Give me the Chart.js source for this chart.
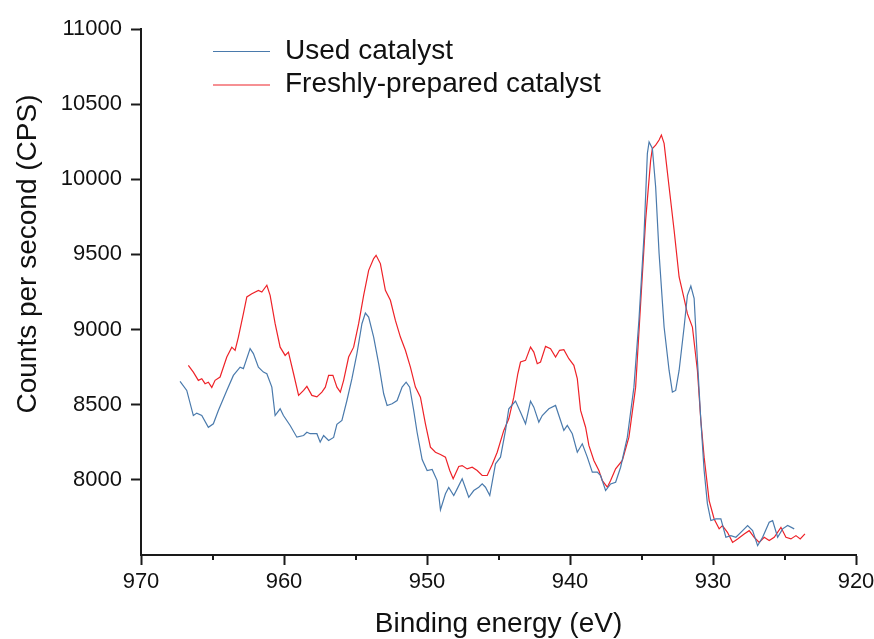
<!DOCTYPE html>
<html>
<head>
<meta charset="utf-8">
<script src="https://cdn.jsdelivr.net/npm/chart.js@4.4.1/dist/chart.umd.min.js"></script>
<style>
  html, body { margin: 0; padding: 0; background: #ffffff; }
  #wrap { width: 874px; height: 639px; position: relative; }
</style>
</head>
<body>
<div id="wrap"><canvas id="c" width="874" height="639"></canvas></div>
<script>
// ---- Data ----
const seriesLabels = ['Used catalyst', 'Freshly-prepared catalyst'];

const usedEnergy = [967.27, 966.80, 966.34, 966.10, 965.75, 965.29, 964.94, 964.59, 964.00, 963.54,
  963.07, 962.84, 962.37, 962.14, 961.79, 961.44, 961.20, 960.85, 960.62, 960.27,
  960.04, 959.57, 959.10, 958.63, 958.40, 958.17, 957.70, 957.47, 957.23, 956.88,
  956.53, 956.30, 955.95, 955.60, 955.25, 954.90, 954.55, 954.31, 954.08, 953.73,
  953.38, 953.03, 952.79, 952.44, 952.09, 951.74, 951.46, 951.21, 950.93, 950.69,
  950.34, 949.99, 949.64, 949.29, 949.06, 948.71, 948.48, 948.13, 947.89, 947.54,
  947.08, 946.73, 946.38, 946.14, 945.91, 945.61, 945.21, 944.86, 944.51, 944.28,
  943.81, 943.46, 943.11, 942.76, 942.53, 942.18, 941.94, 941.48, 941.01, 940.66,
  940.43, 940.19, 939.84, 939.49, 939.14, 938.79, 938.44, 938.09, 937.86, 937.51,
  937.16, 936.81, 936.46, 935.99, 935.53, 935.18, 934.83, 934.59, 934.47, 934.24,
  934.01, 933.77, 933.42, 933.07, 932.84, 932.61, 932.37, 932.02, 931.79, 931.55,
  931.32, 931.09, 930.85, 930.62, 930.39, 930.15, 929.80, 929.45, 929.10, 928.75,
  928.40, 927.93, 927.58, 927.23, 926.88, 926.53, 926.07, 925.83, 925.48, 925.13,
  924.78, 924.32];
const usedCounts = [8655, 8595, 8428, 8444, 8428, 8350, 8373, 8462, 8595, 8695,
  8750, 8740, 8873, 8840, 8750, 8717, 8706, 8617, 8428, 8473,
  8428, 8362, 8284, 8295, 8317, 8307, 8307, 8251, 8295, 8262,
  8282, 8369, 8395, 8528, 8673, 8840, 9039, 9110, 9083, 8950,
  8773, 8573, 8495, 8506, 8528, 8617, 8650, 8617, 8462, 8315,
  8135, 8062, 8069, 7995, 7800, 7907, 7949, 7896, 7940, 8007,
  7884, 7929, 7951, 7973, 7951, 7896, 8107, 8151, 8329, 8473,
  8524, 8450, 8373, 8524, 8484, 8384, 8428, 8473, 8495, 8395,
  8329, 8362, 8307, 8184, 8240, 8151, 8051, 8051, 8029, 7929,
  7973, 7984, 8084, 8284, 8617, 9061, 9616, 10172, 10249, 10205,
  9949, 9506, 9017, 8728, 8584, 8595, 8728, 9017, 9228, 9290,
  9208, 8795, 8395, 8062, 7840, 7729, 7740, 7740, 7618, 7629,
  7618, 7662, 7696, 7662, 7562, 7618, 7718, 7729, 7618, 7674,
  7696, 7674];

const freshEnergy = [966.69, 966.34, 965.99, 965.75, 965.52, 965.29, 965.05, 964.82, 964.47, 964.00,
  963.65, 963.42, 963.19, 962.84, 962.60, 962.25, 961.79, 961.55, 961.20, 960.97,
  960.62, 960.27, 959.92, 959.69, 959.33, 958.98, 958.63, 958.40, 958.05, 957.70,
  957.35, 957.11, 956.88, 956.58, 956.30, 956.06, 955.83, 955.48, 955.13, 954.78,
  954.43, 954.08, 953.73, 953.56, 953.26, 952.91, 952.56, 952.21, 951.86, 951.51,
  951.16, 950.81, 950.46, 950.11, 949.76, 949.41, 949.06, 948.71, 948.41, 948.17,
  947.78, 947.54, 947.19, 946.84, 946.49, 946.14, 945.79, 945.44, 945.09, 944.63,
  944.28, 943.93, 943.65, 943.46, 943.11, 942.76, 942.53, 942.29, 942.06, 941.71,
  941.36, 941.01, 940.73, 940.43, 940.08, 939.73, 939.49, 939.26, 938.91, 938.68,
  938.33, 937.98, 937.74, 937.39, 937.16, 936.81, 936.34, 935.88, 935.41, 935.06,
  934.71, 934.36, 934.24, 934.01, 933.77, 933.61, 933.42, 933.07, 932.72, 932.37,
  932.02, 931.79, 931.44, 931.09, 930.85, 930.62, 930.27, 929.92, 929.57, 929.34,
  928.99, 928.63, 928.28, 927.82, 927.47, 927.12, 926.77, 926.42, 926.07, 925.72,
  925.25, 924.90, 924.55, 924.20, 923.90, 923.57];
const freshCounts = [8762, 8717, 8662, 8673, 8640, 8650, 8615, 8662, 8684, 8817,
  8883, 8862, 8950, 9106, 9217, 9239, 9261, 9250, 9295, 9228,
  9039, 8883, 8828, 8850, 8706, 8562, 8595, 8622, 8562, 8552,
  8584, 8617, 8695, 8695, 8617, 8584, 8662, 8817, 8883, 9039,
  9228, 9394, 9472, 9494, 9439, 9261, 9195, 9061, 8950, 8862,
  8750, 8617, 8550, 8373, 8217, 8184, 8169, 8151, 8062, 8007,
  8089, 8095, 8073, 8084, 8062, 8029, 8029, 8102, 8184, 8329,
  8406, 8550, 8706, 8784, 8795, 8883, 8850, 8773, 8784, 8888,
  8873, 8817, 8862, 8866, 8806, 8762, 8673, 8462, 8350, 8229,
  8129, 8062, 7995, 7951, 7995, 8073, 8129, 8284, 8617, 9173,
  9728, 10127, 10205, 10227, 10261, 10294, 10239, 9949, 9661, 9350,
  9206, 9106, 9017, 8728, 8395, 8151, 7862, 7740, 7674, 7696,
  7651, 7584, 7607, 7640, 7662, 7618, 7584, 7618, 7596, 7618,
  7684, 7618, 7607, 7629, 7607, 7640];

const xTickValues = [970, 960, 950, 940, 930, 920];
const xMinorTickValues = [965, 955, 945, 935, 925];
const yTickValues = [8000, 8500, 9000, 9500, 10000, 10500, 11000];
const xTitle = 'Binding energy (eV)';
const yTitle = 'Counts per second (CPS)';

// ---- Styling ----
const FONT = '"Liberation Sans", Arial, Helvetica, sans-serif';
const AXIS_COLOR = '#1a1a1a';
const TEXT_COLOR = '#111111';
const COLORS = ['rgb(74,122,172)', 'rgb(238,34,40)'];

function pairs(xs, ys) { return xs.map((x, i) => ({ x: x, y: ys[i] })); }

const decorPlugin = {
  id: 'decor',
  afterDraw(chart) {
    const { ctx, chartArea, scales } = chart;
    const xs = scales.x;
    ctx.save();
    // minor x ticks
    ctx.strokeStyle = AXIS_COLOR;
    ctx.lineWidth = 2;
    xMinorTickValues.forEach(v => {
      const px = Math.round(xs.getPixelForValue(v));
      ctx.beginPath();
      ctx.moveTo(px, chartArea.bottom);
      ctx.lineTo(px, chartArea.bottom + 5);
      ctx.stroke();
    });
    // y axis title (offset upward as in the reference)
    ctx.save();
    ctx.translate(28, 254);
    ctx.rotate(-Math.PI / 2);
    ctx.font = '28px ' + FONT;
    ctx.fillStyle = TEXT_COLOR;
    ctx.textAlign = 'center';
    ctx.textBaseline = 'middle';
    ctx.fillText(yTitle, 0, 0);
    ctx.restore();
    // legend inside plot area
    const lx = chartArea.left + 72;
    const ly = chartArea.top + 22.5;
    const rowH = 33.5;
    chart.data.datasets.forEach((ds, i) => {
      const y = ly + i * rowH;
      ctx.strokeStyle = ds.borderColor;
      ctx.lineWidth = 1.2;
      ctx.beginPath();
      ctx.moveTo(lx, y);
      ctx.lineTo(lx + 57, y);
      ctx.stroke();
      ctx.font = '28px ' + FONT;
      ctx.fillStyle = TEXT_COLOR;
      ctx.textAlign = 'left';
      ctx.textBaseline = 'middle';
      ctx.fillText(ds.label, lx + 72, y - 0.5);
    });
    ctx.restore();
  }
};

new Chart(document.getElementById('c'), {
  type: 'line',
  data: {
    datasets: [
      { label: seriesLabels[0], data: pairs(usedEnergy, usedCounts), borderColor: COLORS[0], borderWidth: 1.2, pointRadius: 0, tension: 0, fill: false },
      { label: seriesLabels[1], data: pairs(freshEnergy, freshCounts), borderColor: COLORS[1], borderWidth: 1.2, pointRadius: 0, tension: 0, fill: false }
    ]
  },
  options: {
    responsive: false,
    animation: false,
    devicePixelRatio: 1,
    layout: { padding: { top: 29, right: 18, left: 0, bottom: 0 } },
    plugins: { legend: { display: false }, tooltip: { enabled: false }, title: { display: false } },
    scales: {
      x: {
        type: 'linear',
        reverse: true,
        min: 920, max: 970,
        afterFit(scale) { scale.height = 84; scale.paddingLeft = 0; scale.paddingRight = 0; },
        afterBuildTicks(scale) { scale.ticks = xTickValues.map(v => ({ value: v })); },
        ticks: { font: { size: 22, family: FONT }, color: TEXT_COLOR, padding: 4, maxRotation: 0, autoSkip: false,
                 callback: v => String(v) },
        grid: { drawOnChartArea: false, drawTicks: true, tickLength: 10, tickWidth: 2, tickColor: AXIS_COLOR },
        border: { display: true, color: AXIS_COLOR, width: 2 },
        title: { display: true, text: xTitle, color: TEXT_COLOR, font: { size: 28, family: FONT, lineHeight: 1 }, padding: { top: 0, bottom: 1 } }
      },
      y: {
        type: 'linear',
        min: 7500, max: 11000,
        afterFit(scale) { scale.width = 141; scale.paddingTop = 0; scale.paddingBottom = 0; },
        afterBuildTicks(scale) { scale.ticks = yTickValues.map(v => ({ value: v })); },
        ticks: { font: { size: 22, family: FONT }, color: TEXT_COLOR, padding: 9, autoSkip: false,
                 callback: v => String(v) },
        grid: { drawOnChartArea: false, drawTicks: true, tickLength: 10, tickWidth: 2, tickColor: AXIS_COLOR },
        border: { display: true, color: AXIS_COLOR, width: 2 },
        title: { display: false }
      }
    }
  },
  plugins: [decorPlugin]
});
</script>
</body>
</html>
